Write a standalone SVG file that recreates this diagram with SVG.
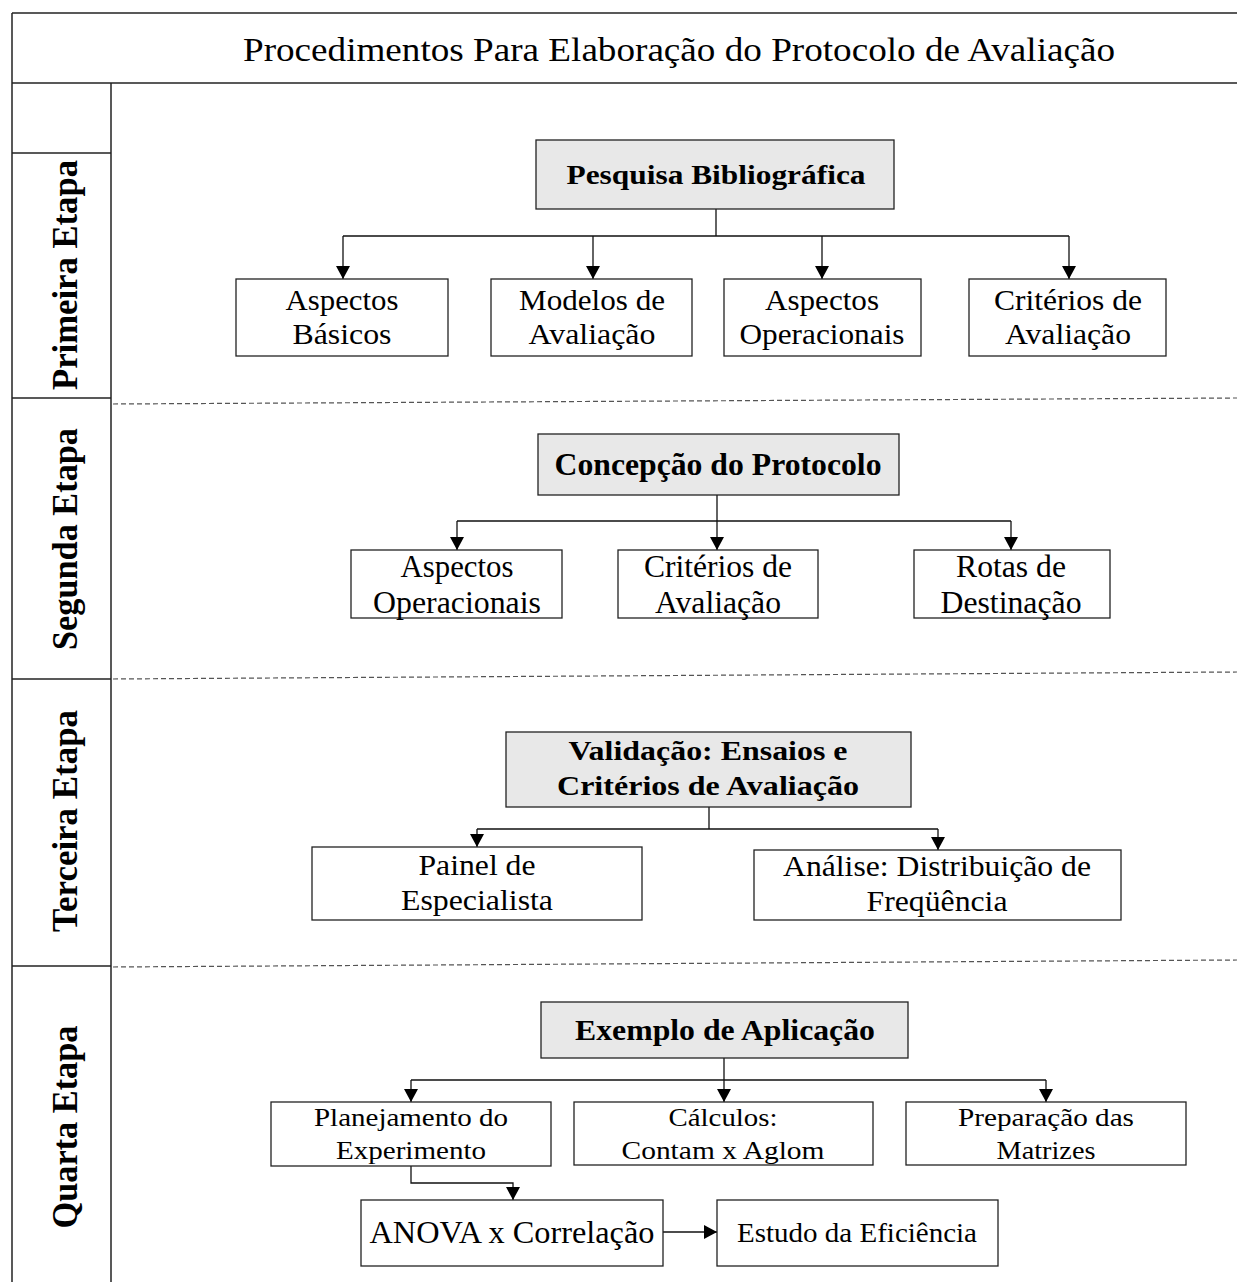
<svg xmlns="http://www.w3.org/2000/svg" width="1237" height="1282" viewBox="0 0 1237 1282">
<defs>
<marker id="arr" viewBox="0 0 13 14" refX="13" refY="7" markerWidth="13" markerHeight="14" markerUnits="userSpaceOnUse" orient="auto">
<path d="M0,0 L13,7 L0,14 z" fill="#000"/>
</marker>
<style>
.frame{stroke:#222;stroke-width:1.5;fill:none}
.dash{stroke:#555;stroke-width:1.2;stroke-dasharray:5,3;fill:none}
.box{fill:#fff;stroke:#222;stroke-width:1.3}
.hbox{fill:#e8e8e8;stroke:#222;stroke-width:1.3}
.con{fill:none;stroke:#111;stroke-width:1.3}
.arr{fill:none;stroke:#111;stroke-width:1.3;marker-end:url(#arr)}
text{font-family:"Liberation Serif","Times New Roman",serif;fill:#000;text-anchor:middle}
.t{font-size:29px}
.t2{font-size:32px}
.t4{font-size:26px}
.b{font-size:28px;font-weight:bold}
.lab{font-size:36px;font-weight:bold}
.title{font-size:34px;text-anchor:start}
</style>
</defs>

<g id="frame">
<line class="frame" x1="12" y1="13" x2="1237" y2="13"/>
<line class="frame" x1="12" y1="83" x2="1237" y2="83"/>
<line class="frame" x1="12" y1="13" x2="12" y2="1282"/>
<line class="frame" x1="111" y1="83" x2="111" y2="1282"/>
<line class="frame" x1="12" y1="153" x2="111" y2="153"/>
<line class="frame" x1="12" y1="398" x2="111" y2="398"/>
<line class="frame" x1="12" y1="679" x2="111" y2="679"/>
<line class="frame" x1="12" y1="966" x2="111" y2="966"/>
<line class="dash" x1="113" y1="404" x2="1237" y2="398"/>
<line class="dash" x1="113" y1="679" x2="1237" y2="672"/>
<line class="dash" x1="113" y1="967" x2="1237" y2="960"/>
<text class="title" x="243" y="61" textLength="872" lengthAdjust="spacingAndGlyphs">Procedimentos Para Elaboração do Protocolo de Avaliação</text>
</g>

<g id="labels">
<text class="lab" transform="translate(77,275) rotate(-90)" textLength="230" lengthAdjust="spacingAndGlyphs">Primeira Etapa</text>
<text class="lab" transform="translate(77,539) rotate(-90)" textLength="222" lengthAdjust="spacingAndGlyphs">Segunda Etapa</text>
<text class="lab" transform="translate(77,821) rotate(-90)" textLength="222" lengthAdjust="spacingAndGlyphs">Terceira Etapa</text>
<text class="lab" transform="translate(77,1127) rotate(-90)" textLength="203" lengthAdjust="spacingAndGlyphs">Quarta Etapa</text>
</g>

<g id="connectors">
<path class="con" d="M716,209 V236 M343,236 H1069"/>
<path class="arr" d="M343,236 V279"/>
<path class="arr" d="M593,236 V279"/>
<path class="arr" d="M822,236 V279"/>
<path class="arr" d="M1069,236 V279"/>
<path class="con" d="M717,495 V521 M457,521 H1011"/>
<path class="arr" d="M457,521 V550"/>
<path class="arr" d="M717,521 V550"/>
<path class="arr" d="M1011,521 V550"/>
<path class="con" d="M709,807 V829 M477,829 H938"/>
<path class="arr" d="M477,829 V847"/>
<path class="arr" d="M938,829 V850"/>
<path class="con" d="M724,1058 V1080 M411,1080 H1046"/>
<path class="arr" d="M411,1080 V1102"/>
<path class="arr" d="M724,1080 V1102"/>
<path class="arr" d="M1046,1080 V1102"/>
<path class="arr" d="M411,1166 V1183 H513 V1200"/>
<path class="arr" d="M663,1232 H717"/>
</g>

<g id="n-pesquisa">
<rect class="hbox" x="536" y="140" width="358" height="69"/>
<text class="b" x="716" y="184" textLength="299" lengthAdjust="spacingAndGlyphs">Pesquisa Bibliográfica</text>
</g>
<g id="n-aspectos-basicos">
<rect class="box" x="236" y="279" width="212" height="77"/>
<text class="t" x="342" y="310" textLength="113" lengthAdjust="spacingAndGlyphs">Aspectos</text>
<text class="t" x="342" y="344" textLength="99" lengthAdjust="spacingAndGlyphs">Básicos</text>
</g>
<g id="n-modelos">
<rect class="box" x="491" y="279" width="201" height="77"/>
<text class="t" x="592" y="310" textLength="146" lengthAdjust="spacingAndGlyphs">Modelos de</text>
<text class="t" x="592" y="344" textLength="127" lengthAdjust="spacingAndGlyphs">Avaliação</text>
</g>
<g id="n-aspectos-op1">
<rect class="box" x="724" y="279" width="197" height="77"/>
<text class="t" x="822" y="310" textLength="114" lengthAdjust="spacingAndGlyphs">Aspectos</text>
<text class="t" x="822" y="344" textLength="165" lengthAdjust="spacingAndGlyphs">Operacionais</text>
</g>
<g id="n-criterios1">
<rect class="box" x="969" y="279" width="197" height="77"/>
<text class="t" x="1068" y="310" textLength="148" lengthAdjust="spacingAndGlyphs">Critérios de</text>
<text class="t" x="1068" y="344" textLength="126" lengthAdjust="spacingAndGlyphs">Avaliação</text>
</g>

<g id="n-concepcao">
<rect class="hbox" x="538" y="434" width="361" height="61"/>
<text class="b" x="718" y="475" textLength="327" lengthAdjust="spacingAndGlyphs" style="font-size:31px">Concepção do Protocolo</text>
</g>
<g id="n-aspectos-op2">
<rect class="box" x="351" y="550" width="211" height="68"/>
<text class="t2" x="457" y="577" textLength="113" lengthAdjust="spacingAndGlyphs">Aspectos</text>
<text class="t2" x="457" y="613" textLength="168" lengthAdjust="spacingAndGlyphs">Operacionais</text>
</g>
<g id="n-criterios2">
<rect class="box" x="618" y="550" width="200" height="68"/>
<text class="t2" x="718" y="577" textLength="148" lengthAdjust="spacingAndGlyphs">Critérios de</text>
<text class="t2" x="718" y="613" textLength="126" lengthAdjust="spacingAndGlyphs">Avaliação</text>
</g>
<g id="n-rotas">
<rect class="box" x="914" y="550" width="196" height="68"/>
<text class="t2" x="1011" y="577" textLength="110" lengthAdjust="spacingAndGlyphs">Rotas de</text>
<text class="t2" x="1011" y="613" textLength="141" lengthAdjust="spacingAndGlyphs">Destinação</text>
</g>

<g id="n-validacao">
<rect class="hbox" x="506" y="732" width="405" height="75"/>
<text class="b" x="708" y="760" textLength="279" lengthAdjust="spacingAndGlyphs">Validação: Ensaios e</text>
<text class="b" x="708" y="795" textLength="302" lengthAdjust="spacingAndGlyphs">Critérios de Avaliação</text>
</g>
<g id="n-painel">
<rect class="box" x="312" y="847" width="330" height="73"/>
<text class="t" x="477" y="875" textLength="117" lengthAdjust="spacingAndGlyphs">Painel de</text>
<text class="t" x="477" y="910" textLength="152" lengthAdjust="spacingAndGlyphs">Especialista</text>
</g>
<g id="n-analise">
<rect class="box" x="754" y="850" width="367" height="70"/>
<text class="t" x="937" y="876" textLength="308" lengthAdjust="spacingAndGlyphs">Análise: Distribuição de</text>
<text class="t" x="937" y="911" textLength="141" lengthAdjust="spacingAndGlyphs">Freqüência</text>
</g>

<g id="n-exemplo">
<rect class="hbox" x="541" y="1002" width="367" height="56"/>
<text class="b" x="725" y="1040" textLength="300" lengthAdjust="spacingAndGlyphs" style="font-size:30px">Exemplo de Aplicação</text>
</g>
<g id="n-planejamento">
<rect class="box" x="271" y="1102" width="280" height="64"/>
<text class="t4" x="411" y="1126" textLength="194" lengthAdjust="spacingAndGlyphs">Planejamento do</text>
<text class="t4" x="411" y="1159" textLength="150" lengthAdjust="spacingAndGlyphs">Experimento</text>
</g>
<g id="n-calculos">
<rect class="box" x="574" y="1102" width="299" height="63"/>
<text class="t4" x="723" y="1126" textLength="109" lengthAdjust="spacingAndGlyphs">Cálculos:</text>
<text class="t4" x="723" y="1159" textLength="203" lengthAdjust="spacingAndGlyphs">Contam x Aglom</text>
</g>
<g id="n-preparacao">
<rect class="box" x="906" y="1102" width="280" height="63"/>
<text class="t4" x="1046" y="1126" textLength="176" lengthAdjust="spacingAndGlyphs">Preparação das</text>
<text class="t4" x="1046" y="1159" textLength="99" lengthAdjust="spacingAndGlyphs">Matrizes</text>
</g>
<g id="n-anova">
<rect class="box" x="361" y="1200" width="302" height="66"/>
<text class="t" x="512" y="1243" textLength="285" lengthAdjust="spacingAndGlyphs" style="font-size:31px">ANOVA x Correlação</text>
</g>
<g id="n-estudo">
<rect class="box" x="717" y="1200" width="281" height="66"/>
<text class="t" x="857" y="1242" textLength="240" lengthAdjust="spacingAndGlyphs" style="font-size:28px">Estudo da Eficiência</text>
</g>
</svg>
